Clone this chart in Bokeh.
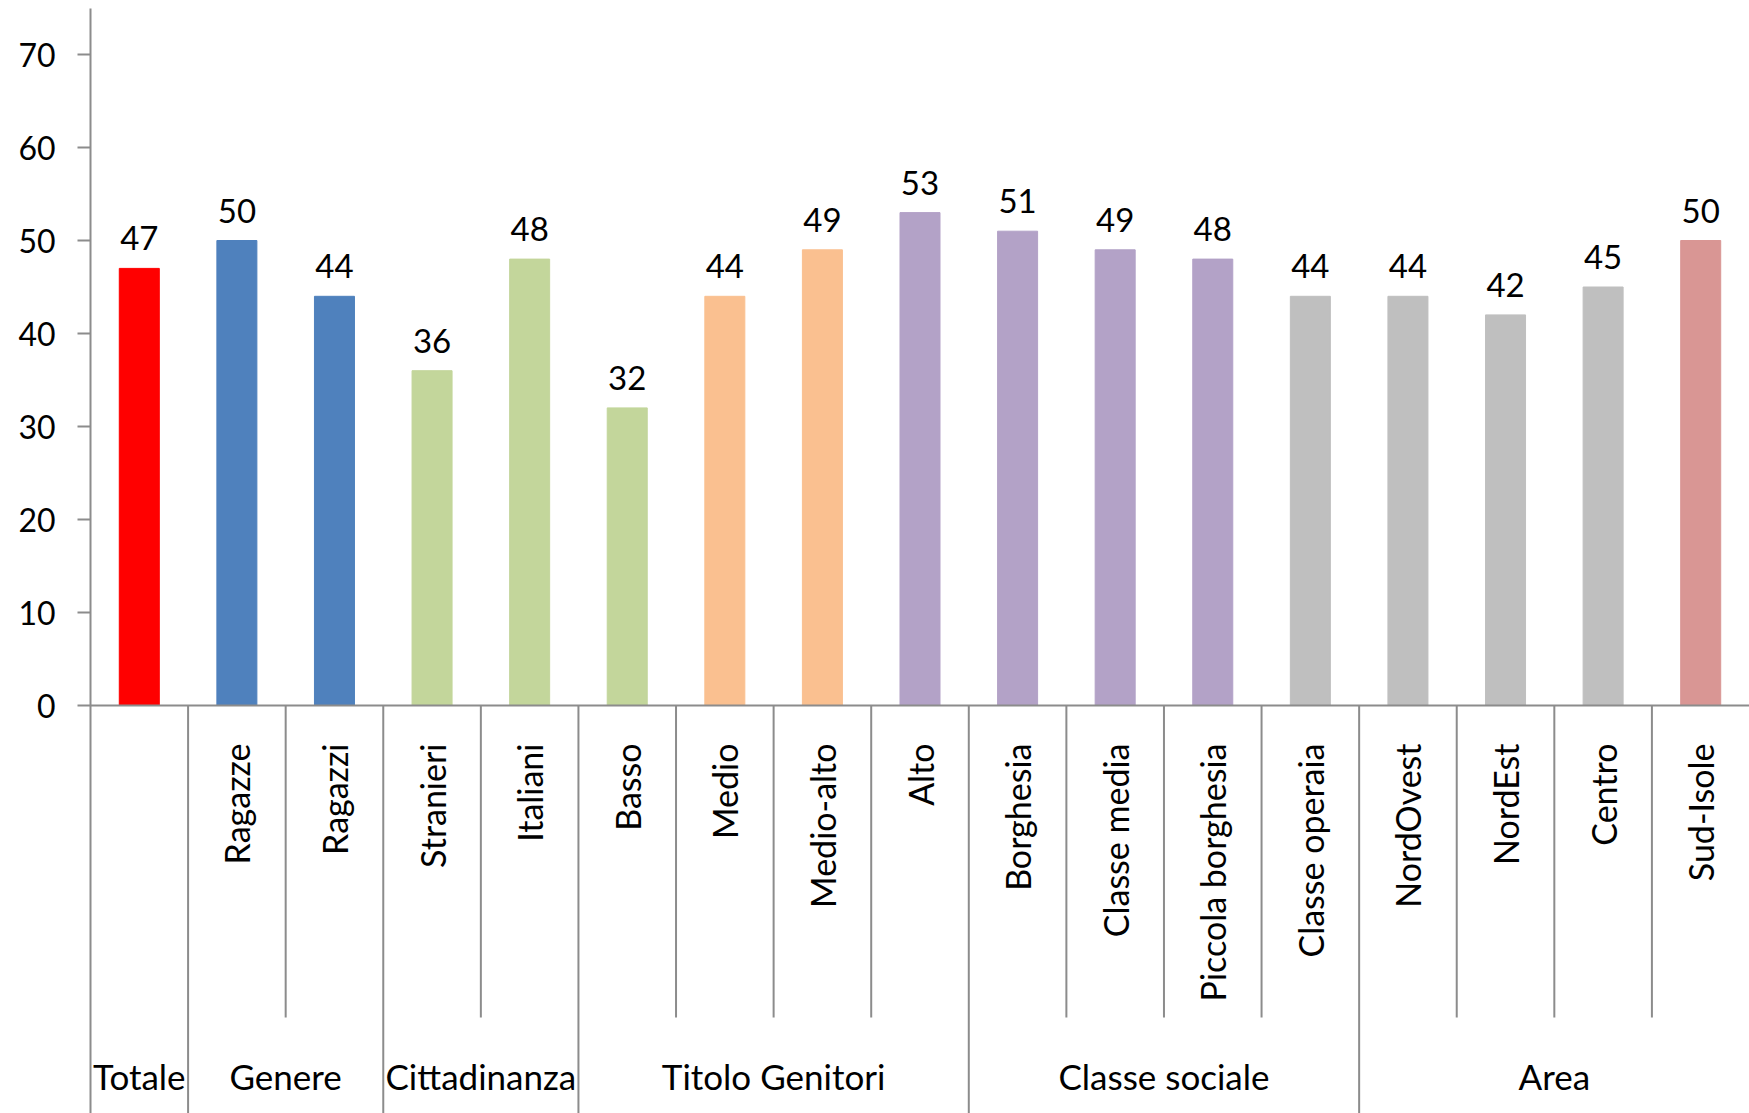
import math
from bokeh.plotting import figure
from bokeh.models import FixedTicker, Range1d, ColumnDataSource
from bokeh.embed import file_html
from bokeh.resources import INLINE
from bokeh.core.properties import value

# ---- data ----
categories = ["", "Ragazze", "Ragazzi", "Stranieri", "Italiani", "Basso", "Medio",
              "Medio-alto", "Alto", "Borghesia", "Classe media", "Piccola borghesia",
              "Classe operaia", "NordOvest", "NordEst", "Centro", "Sud-Isole"]
values = [47, 50, 44, 36, 48, 32, 44, 49, 53, 51, 49, 48, 44, 44, 42, 45, 50]
colors = ["#FF0000", "#4F81BD", "#4F81BD", "#C3D69B", "#C3D69B", "#C3D69B", "#FAC090",
          "#FAC090", "#B3A2C7", "#B3A2C7", "#B3A2C7", "#B3A2C7", "#BFBFBF", "#BFBFBF",
          "#BFBFBF", "#BFBFBF", "#D99694"]
groups = ["Totale", "Genere", "Cittadinanza", "Titolo Genitori", "Classe sociale", "Area"]
group_sizes = [1, 2, 2, 4, 4, 4]
y_ticks = [0, 10, 20, 30, 40, 50, 60, 70]

# ---- layout ----
W, H = 1749, 1113
LEFT = 90
TOP = 8
ZERO = 705          # pixel row of value 0 (from figure top)
PX = 9.3            # pixels per unit
Y_TOP = (ZERO - TOP) / PX
Y_BOT = -(H - ZERO) / PX
FONT = "Lato"
AX = "#8c8c8c"

n = len(categories)
xs = [i + 0.5 for i in range(n)]

p = figure(width=W, height=H, output_backend="svg", toolbar_location=None,
           x_range=Range1d(0, n), y_range=Range1d(Y_BOT, Y_TOP),
           min_border_left=LEFT, min_border_right=0, min_border_top=TOP, min_border_bottom=0)
p.outline_line_color = None
p.grid.visible = False
p.xaxis.visible = False
p.background_fill_color = "white"
p.border_fill_color = "white"

yax = p.yaxis[0]
yax.ticker = FixedTicker(ticks=y_ticks)
yax.minor_tick_line_color = None
yax.major_tick_out = 13
yax.major_tick_in = 0
yax.major_tick_line_color = AX
yax.major_tick_line_width = 2
yax.axis_line_color = AX
yax.axis_line_width = 2
yax.major_label_text_font = FONT
yax.major_label_text_font_size = "32px"
yax.major_label_text_color = "black"
yax.major_label_standoff = 22

# bars
src = ColumnDataSource(dict(x=xs, top=values, color=colors, cat=categories,
                            lab=[str(v) for v in values],
                            ly=[v + 30 / PX for v in values]))
p.vbar(x="x", top="top", bottom=0, width=0.41, fill_color="color", line_color="color",
       source=src)

# x axis line at 0
p.segment(x0=[0], y0=[0], x1=[n], y1=[0], line_color=AX, line_width=2)

# value labels
p.text(x="x", y="ly", text="lab", source=src, text_align="center",
       text_baseline="alphabetic", text_font=value(FONT), text_font_size="33px",
       text_color="black")

# rotated category labels
p.text(x="x", y=-38 / PX, text="cat", source=src, angle=math.pi / 2,
       text_align="right", text_baseline="middle", text_font=value(FONT),
       text_font_size="34px", text_color="black")

# separators
bounds = []
acc = 0
for s in group_sizes:
    acc += s
    bounds.append(acc)
inner = [b for b in range(1, n) if b not in bounds]
outer = [b for b in bounds if b < n]
p.segment(x0=inner, y0=[0] * len(inner), x1=inner, y1=[-312 / PX] * len(inner),
          line_color=AX, line_width=2)
p.segment(x0=outer, y0=[0] * len(outer), x1=outer, y1=[Y_BOT] * len(outer),
          line_color=AX, line_width=2)

# group labels
starts = [0] + bounds[:-1]
gx = [(a + b) / 2 for a, b in zip(starts, bounds)]
p.text(x=gx, y=[-370 / PX] * len(gx), text=groups,
       text_align="center", text_baseline="middle", text_font=value(FONT),
       text_font_size="35px", text_color="black")

open("out.html", "w").write(file_html(p, INLINE))
